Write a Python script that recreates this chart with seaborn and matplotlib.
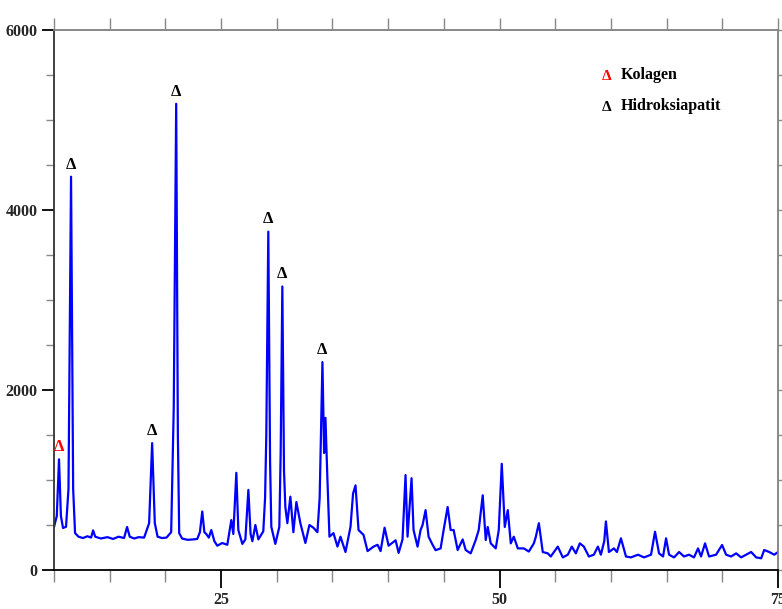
import numpy as np
import pandas as pd
import matplotlib
matplotlib.use("Agg")
import matplotlib.pyplot as plt
import seaborn as sns

# 2-theta (degrees) and intensity
two_theta = [
    10.00, 10.25, 10.45, 10.62, 10.81, 11.08, 11.30, 11.53, 11.72, 11.89,
    12.20, 12.60, 13.00, 13.33, 13.51, 13.70, 14.20, 14.80, 15.30, 15.80,
    16.29, 16.56, 16.80, 17.20, 17.60, 18.09, 18.54, 18.81, 19.05, 19.30,
    19.70, 20.10, 20.52, 20.75, 20.97, 21.12, 21.24, 21.50, 22.00, 22.50,
    22.86, 23.10, 23.31, 23.50, 23.67, 23.90, 24.12, 24.40, 24.66, 25.10,
    25.56, 25.92, 26.10, 26.37, 26.55, 26.91, 27.18, 27.45, 27.65, 27.81,
    28.08, 28.35, 28.79, 28.95, 29.06, 29.24, 29.40, 29.51, 29.87, 30.23,
    30.35, 30.50, 30.65, 30.77, 30.95, 31.22, 31.49, 31.76, 32.12, 32.57,
    32.93, 33.29, 33.65, 33.85, 34.10, 34.25, 34.37, 34.55, 34.73, 35.09,
    35.45, 35.72, 36.17, 36.62, 36.85, 37.07, 37.34, 37.79, 38.15, 38.69,
    39.05, 39.32, 39.68, 40.04, 40.67, 40.94, 41.29, 41.56, 41.74, 42.10,
    42.28, 42.64, 42.91, 43.09, 43.36, 43.63, 43.99, 44.26, 44.71, 44.98,
    45.34, 45.61, 45.88, 46.24, 46.69, 46.96, 47.41, 47.86, 48.13, 48.49,
    48.76, 48.94, 49.21, 49.66, 49.93, 50.20, 50.47, 50.74, 51.01, 51.28,
    51.64, 52.18, 52.63, 53.08, 53.26, 53.53, 53.88, 54.33, 54.60, 55.23,
    55.68, 56.13, 56.49, 56.85, 57.21, 57.57, 58.02, 58.47, 58.83, 59.10,
    59.40, 59.55, 59.82, 60.27, 60.54, 60.90, 61.35, 61.80, 62.43, 62.97,
    63.60, 63.96, 64.32, 64.68, 64.95, 65.22, 65.67, 66.12, 66.56, 67.01,
    67.46, 67.82, 68.09, 68.45, 68.81, 69.44, 69.98, 70.34, 70.79, 71.24,
    71.69, 72.14, 72.59, 73.04, 73.49, 73.76, 74.21, 74.66, 75.00,
]
intensity = [
    478, 600, 1230, 600, 467, 480, 900, 4370, 900, 410,
    370, 355, 375, 360, 440, 370, 350, 365, 345, 370,
    355, 478, 370, 350, 365, 360, 520, 1410, 520, 370,
    355, 360, 420, 1800, 5180, 1500, 410, 350, 335, 340,
    345, 420, 650, 420, 400, 360, 444, 320, 270, 300,
    280, 555, 400, 1080, 444, 290, 340, 890, 400, 320,
    500, 340, 430, 800, 1500, 3760, 1200, 480, 290, 480,
    1300, 3150, 1100, 700, 520, 815, 420, 755, 520, 300,
    500, 470, 420, 800, 2310, 1300, 1690, 1000, 370, 410,
    260, 370, 200, 480, 850, 940, 444, 390, 210, 260,
    280, 210, 470, 270, 330, 190, 340, 1055, 370, 1020,
    444, 260, 444, 500, 665, 370, 280, 220, 240, 444,
    700, 444, 444, 222, 340, 222, 185, 333, 444, 830,
    333, 478, 296, 240, 444, 1180, 478, 665, 296, 370,
    240, 240, 205, 296, 370, 520, 200, 185, 150, 260,
    140, 170, 260, 185, 296, 260, 150, 170, 260, 170,
    320, 540, 200, 240, 200, 352, 150, 140, 170, 140,
    170, 425, 185, 150, 352, 170, 140, 200, 150, 170,
    140, 240, 150, 296, 150, 170, 278, 170, 150, 185,
    140, 170, 200, 140, 130, 222, 200, 170, 200,
]

kolagen_peaks = [10.45]
hidroksiapatit_peaks = [11.53, 18.81, 20.97, 29.24, 30.50, 34.10]
legend_labels = ["Kolagen", "Hidroksiapatit"]
legend_colors = ["red", "black"]

x_major = [25, 50, 75]
y_major = [0, 2000, 4000, 6000]

df = pd.DataFrame({"two_theta": two_theta, "intensity": intensity})

sns.set_style("ticks")
plt.rcParams["font.family"] = ["Liberation Serif", "DejaVu Serif"]
plt.rcParams["font.weight"] = "bold"

fig = plt.figure(figsize=(7.82, 6.09), dpi=100)
ax = fig.add_axes([54 / 782, 39 / 609, 724 / 782, 540 / 609])

sns.lineplot(data=df, x="two_theta", y="intensity", ax=ax, color="#0000ff",
             linewidth=1.6, sort=False, estimator=None, legend=False)

ax.set_xlim(10, 75)
ax.set_ylim(0, 6000)
ax.set_xlabel("")
ax.set_ylabel("")

ax.set_xticks(x_major)
ax.set_xticks(np.arange(10, 76, 5), minor=True)
ax.set_yticks(y_major)
ax.set_yticks(np.arange(0, 6001, 500), minor=True)
ax.set_xticklabels([str(v) for v in x_major], fontsize=11.5, fontweight="bold")
ax.set_yticklabels([str(v) for v in y_major], fontsize=11.5, fontweight="bold")

ax.tick_params(axis="x", which="major", direction="out", length=13, width=1.3,
               color="black", pad=2.5)
ax.tick_params(axis="x", which="minor", direction="out", length=8.6, width=1.0,
               color="#888888")
ax.tick_params(axis="y", which="major", direction="out", length=9, width=1.3,
               color="black", pad=3)
ax.tick_params(axis="y", which="minor", direction="out", length=5.5, width=1.0,
               color="#888888")

for side in ["left", "bottom"]:
    ax.spines[side].set_color("black")
    ax.spines[side].set_linewidth(1.3)
ax.spines["left"].set_color("#333333")
for side in ["top", "right"]:
    ax.spines[side].set_visible(True)
    ax.spines[side].set_color("#888888")
    ax.spines[side].set_linewidth(1.2)

sec_x = ax.secondary_xaxis("top")
sec_x.set_xticks(np.arange(10, 76, 5))
sec_x.tick_params(direction="out", length=8.6, width=1.0, color="#888888",
                  labeltop=False)
sec_x.spines["top"].set_color("#888888")
sec_x.spines["top"].set_linewidth(1.2)

sec_y = ax.secondary_yaxis("right")
sec_y.set_yticks(np.arange(0, 6001, 500))
sec_y.tick_params(direction="out", length=5, width=1.0, color="#888888",
                  labelright=False)
sec_y.spines["right"].set_color("#888888")
sec_y.spines["right"].set_linewidth(1.2)

# peak markers
for peaks, col in [(kolagen_peaks, legend_colors[0]),
                   (hidroksiapatit_peaks, legend_colors[1])]:
    for px in peaks:
        py = np.interp(px, two_theta, intensity)
        ax.annotate("Δ", xy=(px, py), xytext=(0, 3), textcoords="offset points",
                    ha="center", va="bottom", color=col, fontsize=12,
                    fontweight="bold")

# legend as text entries
for i, (lab, col) in enumerate(zip(legend_labels, legend_colors)):
    yy = 0.913 - i * 0.057
    ax.text(0.763, yy, "Δ", transform=ax.transAxes, color=col, fontsize=11,
            fontweight="bold", ha="center", va="center")
    ax.text(0.783, yy + 0.004, lab, transform=ax.transAxes, color="black",
            fontsize=11.5, fontweight="bold", ha="left", va="center")

fig.savefig("out.png", dpi=100)
